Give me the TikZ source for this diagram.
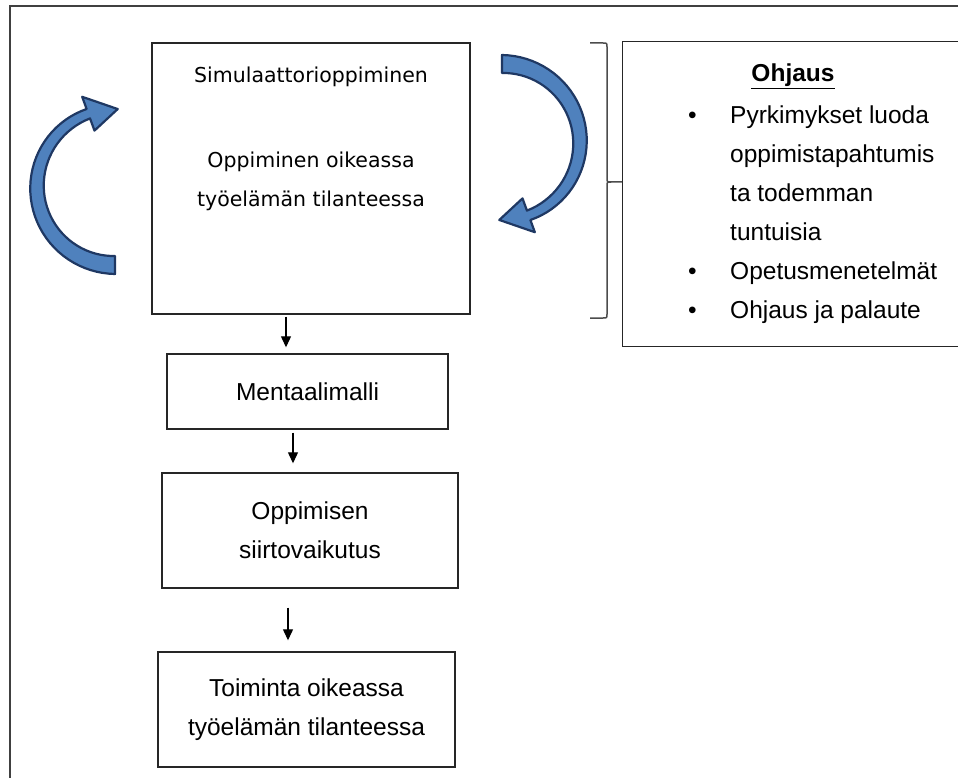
\documentclass[tikz,border=0pt]{standalone}
\usepackage{fontspec}
\setmainfont{Liberation Sans}
\newfontfamily\simfont{DejaVu Sans}
\usetikzlibrary{arrows.meta}
\definecolor{arrowfill}{RGB}{79,129,189}
\definecolor{arrowline}{RGB}{31,56,99}

\begin{document}
\begin{tikzpicture}[x=1pt,y=-1pt]
	\tikzset{box/.style = {shape=rectangle,draw=black!85,line width=1.4pt,inner sep=0pt,align=center,font=\fontsize{24.5}{39}\selectfont}}
	\tikzset{simtext/.style = {inner sep=0pt,font=\simfont\fontsize{20.5}{39}\selectfont}}
	\tikzset{listtext/.style = {inner sep=0pt,font=\fontsize{24.5}{39}\selectfont}}
	\tikzset{flow/.style = {-{Triangle[length=11pt,width=10pt]},line width=1.2pt}}
	\tikzset{bigarrow/.style = {fill=arrowfill,draw=arrowline,line width=2.2pt,line join=round}}
	\tikzset{brace/.style = {draw=black!70,line width=1.5pt}}
	\useasboundingbox (0,0) rectangle (958,778);
	\draw[black!75,line width=2pt] (10,800) |- (990,6);
	% boxes
	\node[box,minimum width=318pt,minimum height=271pt] (sim) at (311,178.5) {};
	\node[box,minimum width=281pt,minimum height=75pt] (ment) at (307.5,391.5) {Mentaalimalli};
	\node[box,minimum width=296pt,minimum height=115pt] (opp) at (310,530.5) {Oppimisen\\siirtovaikutus};
	\node[box,minimum width=297pt,minimum height=115pt] (toim) at (306.5,709.5) {Toiminta oikeassa\\työelämän tilanteessa};
	\node[box,minimum width=360pt,minimum height=305pt,anchor=north west] (guide) at (622,41) {};
	% texts
	\node[simtext,anchor=base] (simtitle) at (311,83) {Simulaattorioppiminen};
	\node[simtext,anchor=base] (simreal) at (311,168) {Oppiminen oikeassa};
	\node[simtext,anchor=base] (simwork) at (311,207) {työelämän tilanteessa};
	\node[listtext,anchor=base] (guidetitle) at (793,82) {\underline{\textbf{Ohjaus}}};
	\node[listtext,anchor=base west] (guideitems) at (688,124) {\begin{tabular}[t]{@{}p{42pt}@{}l@{}}
		\textbullet & Pyrkimykset luoda\\
		& oppimistapahtumis\\
		& ta todemman\\
		& tuntuisia\\
		\textbullet & Opetusmenetelmät\\
		\textbullet & Ohjaus ja palaute
	\end{tabular}};
	% flow
	\draw[flow] ([xshift=-25pt,yshift=-2pt]sim.south) -- ([xshift=-21.5pt,yshift=6pt]ment.north);
	\draw[flow] ([xshift=-14.5pt,yshift=-3pt]ment.south) -- ([xshift=-17pt,yshift=9pt]opp.north);
	\draw[flow] ([xshift=-22pt,yshift=-19pt]opp.south) -- ([xshift=-18.5pt,yshift=11pt]toim.north);
	% brace
	\draw[brace] (590,43) -- (603,43) .. controls (607,43) .. (607,47) -- (607,178) .. controls (607,182) .. (611,182) -- (622,182)
		(611,182) .. controls (607,182) .. (607,186) -- (607,314) .. controls (607,318) .. (603,318) -- (590,318);
	% curved arrows
	\filldraw[bigarrow] plot[domain=90:250,samples=40] ({115+(87-(\x-90)/40)*cos(\x)},{187+(87-(\x-90)/40)*sin(\x)})
		-- ({115+96*cos(250)},{187+96*sin(250)}) -- ({115+78*cos(272)},{187+78*sin(272)}) -- ({115+60*cos(250)},{187+60*sin(250)})
		-- plot[domain=250:90,samples=40] ({115+(69+(\x-90)/40)*cos(\x)},{187+(69+(\x-90)/40)*sin(\x)}) -- cycle;
	\filldraw[bigarrow] plot[domain=-90:70,samples=40] ({502+(87-(\x+90)/40)*cos(\x)},{142+(87-(\x+90)/40)*sin(\x)})
		-- ({502+96*cos(70)},{142+96*sin(70)}) -- ({502+78*cos(92)},{142+78*sin(92)}) -- ({502+60*cos(70)},{142+60*sin(70)})
		-- plot[domain=70:-90,samples=40] ({502+(69+(\x+90)/40)*cos(\x)},{142+(69+(\x+90)/40)*sin(\x)}) -- cycle;
\end{tikzpicture}
\end{document}
